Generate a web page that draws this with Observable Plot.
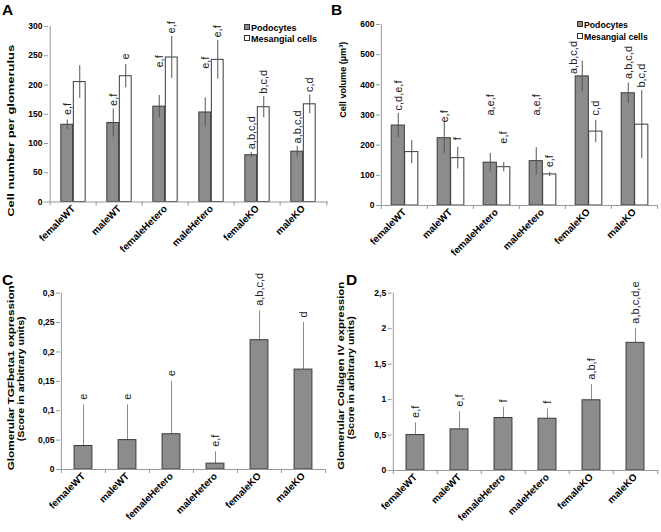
<!DOCTYPE html>
<html><head><meta charset="utf-8">
<script src="https://cdn.jsdelivr.net/npm/d3@7"></script>
<script src="https://cdn.jsdelivr.net/npm/@observablehq/plot@0.6"></script>
<style>
body{margin:0;background:#fff;}
#root{position:relative;width:661px;height:532px;overflow:hidden;font-family:"Liberation Sans",Arial,sans-serif;color:#000;}
.panel{position:absolute;}
.letter{position:absolute;font-weight:bold;font-size:15.5px;line-height:1;}
.ytitle{position:absolute;font-weight:bold;white-space:nowrap;line-height:1;}
.leg{position:absolute;font-weight:bold;white-space:nowrap;line-height:1;}
.leg span{display:inline-block;width:4px;height:4px;border:1px solid #333;margin-right:1px;vertical-align:1px;}
</style></head><body><div id="root"></div>
<script>
// ---------- data ----------
const groups = ["femaleWT","maleWT","femaleHetero","maleHetero","femaleKO","maleKO"];
const seriesNames = ["Podocytes","Mesangial cells"];

// Panel A: cell number per glomerulus
const aPodo = [132,135,163,153,80,86];
const aPodoErr = [8,24,19,25,5,9];
const aPodoLabels = ["e,f","e,f","e,f","e,f","a,b,c,d","a,b,c,d"];
const aMes = [205,215,247,243,162,167];
const aMesErr = [28,20,36,33,18,16];
const aMesLabels = ["","e","e,f","e,f","b,c,d","c,d"];
const aTicks = [0,50,100,150,200,250,300];

// Panel B: cell volume
const bPodo = [265,223,142,147,428,372];
const bPodoErr = [40,52,30,45,51,34];
const bPodoLabels = ["c,d,e,f","e,f","a,e,f","a,e,f","a,b,c,d","a,b,c,d"];
const bMes = [177,157,127,103,245,268];
const bMesErr = [38,36,15,7,37,113];
const bMesLabels = ["","f","e,f","e,f","c,d","b,c,d"];
const bTicks = [0,100,200,300,400,500,600];

// Panel C: TGFbeta1
const cVal = [0.04,0.05,0.06,0.01,0.22,0.17];
const cErr = [0.07,0.06,0.09,0.02,0.05,0.08];
const cLabels = ["e","e","e","e,f","a,b,c,d","d"];
const cTicks = [0,0.05,0.1,0.15,0.2,0.25,0.3];
const cTickLabels = ["0","0,05","0,1","0,15","0,2","0,25","0,3"];

// Panel D: Collagen IV
const dVal = [0.5,0.58,0.74,0.73,0.99,1.8];
const dErr = [0.17,0.25,0.15,0.14,0.22,0.2];
const dLabels = ["e,f","e,f","f","f","a,b,f","a,b,c,d,e"];
const dTicks = [0,0.5,1,1.5,2,2.5];
const dTickLabels = ["0","0,5","1","1,5","2","2,5"];

// ---------- styles ----------
const GRAY = "#8c8c8c", EDGE = "#3a3a3a", AXIS = "#999";
const FONT = "'Liberation Sans', Arial, sans-serif";
const root = document.getElementById("root");

function place(el, left, top){ el.classList.add("panel"); el.style.left = left+"px"; el.style.top = top+"px"; root.appendChild(el); }

function axesMarks(step, ymax, ticks, fmt){
  return [
    Plot.ruleY([0], {stroke: AXIS}),
    Plot.ruleX([groups[0]], {x: d => d, dx: -step/2, y1: 0, y2: ymax, stroke: AXIS}),
    Plot.ruleX(groups, {x: d => d, dx: -step/2, y1: 0, y2: 0, insetBottom: -4, stroke: AXIS}),
    Plot.ruleX([groups[groups.length-1]], {x: d => d, dx: step/2, y1: 0, y2: 0, insetBottom: -4, stroke: AXIS}),
    Plot.axisY({ticks, tickSize: 4, tickPadding: 2, stroke: AXIS, fill: "#000", fontWeight: "bold", fontSize: 8.5, tickFormat: fmt, label: null}),
    Plot.axisX({tickSize: 0, tickRotate: -45, tickPadding: 5, fill: "#000", fontWeight: "bold", fontSize: 9.8, label: null})
  ];
}

// per-label text placement (pixel lift above the error bar top, horizontal nudge)
function labelMarks(rows, yFn, labKey, baseDx, lifts, nudges){
  return rows.map((r,i) => r[labKey] ? Plot.text([r], {x: "g", y: yFn, text: labKey, rotate: -90, textAnchor: "start", lineAnchor: "middle",
    dx: baseDx + (nudges ? nudges[i] : 0), dy: -3 - (lifts ? lifts[i] : 0), fontSize: 11, fill: "#222"}) : null).filter(Boolean);
}

function grouped({W,H,ml,mr,mt,mb,ymax,ticks,podo,podoErr,podoLab,mes,mesErr,mesLab,barW,shift,podoLift,mesLift,podoNudge}){
  const step = (W-ml-mr)/groups.length;
  const rows = groups.map((g,i)=>({g, p: podo[i], pe: podoErr[i], pl: podoLab[i], m: mes[i], me: mesErr[i], mlab: mesLab[i]}));
  return Plot.plot({
    width: W, height: H, marginLeft: ml, marginRight: mr, marginTop: mt, marginBottom: mb,
    style: {fontFamily: FONT, background: "transparent", overflow: "visible"},
    x: {type: "band", domain: groups, padding: 0},
    y: {domain: [0, ymax]},
    marks: [
      Plot.barY(rows, {x: "g", y: "p", fill: GRAY, stroke: EDGE, strokeWidth: 1, insetLeft: step/2 - barW + shift, insetRight: step/2 - shift}),
      Plot.barY(rows, {x: "g", y: "m", fill: "#fff", stroke: EDGE, strokeWidth: 1, insetLeft: step/2 + shift, insetRight: step/2 - barW - shift}),
      Plot.ruleX(rows, {x: "g", y1: r => r.p - r.pe, y2: r => r.p + r.pe, dx: shift - barW/2, stroke: "#555"}),
      Plot.ruleX(rows, {x: "g", y1: r => r.m - r.me, y2: r => r.m + r.me, dx: shift + barW/2, stroke: "#555"}),
      ...labelMarks(rows, r => r.p + r.pe, "pl", shift - barW/2, podoLift, podoNudge),
      ...labelMarks(rows, r => r.m + r.me, "mlab", shift + barW/2, mesLift, null),
      ...axesMarks(step, ymax, ticks, d => String(d))
    ]
  });
}

function single({W,H,ml,mr,mt,mb,ymax,ticks,tickLabels,vals,errs,labs,barW}){
  const step = (W-ml-mr)/groups.length;
  const rows = groups.map((g,i)=>({g, v: vals[i], e: errs[i], l: labs[i]}));
  return Plot.plot({
    width: W, height: H, marginLeft: ml, marginRight: mr, marginTop: mt, marginBottom: mb,
    style: {fontFamily: FONT, background: "transparent", overflow: "visible"},
    x: {type: "band", domain: groups, padding: 0},
    y: {domain: [0, ymax]},
    marks: [
      Plot.ruleX(rows, {x: "g", y1: "v", y2: r => r.v + r.e, stroke: "#8a8a8a"}),
      Plot.barY(rows, {x: "g", y: "v", fill: GRAY, stroke: EDGE, strokeWidth: 1, insetLeft: (step - barW)/2, insetRight: (step - barW)/2}),
      ...labelMarks(rows, r => r.v + r.e, "l", 0, [2,2,2,2,2,2], null),
      ...axesMarks(step, ymax, ticks, d => tickLabels[ticks.indexOf(d)])
    ]
  });
}

place(grouped({W:330,H:270,ml:48,mr:2,mt:26,mb:68.5,ymax:300,ticks:aTicks,podo:aPodo,podoErr:aPodoErr,podoLab:aPodoLabels,mes:aMes,mesErr:aMesErr,mesLab:aMesLabels,barW:12.5,shift:0,
  podoLift:[2,0,25,26,0,0], mesLift:[0,2,0,0,0,0]}), 0, 0);
place(grouped({W:331,H:270,ml:50,mr:3,mt:24,mb:65,ymax:600,ticks:bTicks,podo:bPodo,podoErr:bPodoErr,podoLab:bPodoLabels,mes:bMes,mesErr:bMesErr,mesLab:bMesLabels,barW:13.5,shift:0.5,
  podoLift:[0,-3,35,29,-16,1], mesLift:[0,4,16,2,2,0], podoNudge:[0,0,0,0,-9,0]}), 330, 0);
place(single({W:330,H:262,ml:60,mr:5,mt:22.7,mb:63,ymax:0.3,ticks:cTicks,tickLabels:cTickLabels,vals:cVal,errs:cErr,labs:cLabels,barW:18}), 0, 270);
place(single({W:331,H:262,ml:61.7,mr:3,mt:22.7,mb:62,ymax:2.5,ticks:dTicks,tickLabels:dTickLabels,vals:dVal,errs:dErr,labs:dLabels,barW:18.3}), 330, 270);

// ---------- panel letters ----------
[["A",2,2],["B",331,2],["C",2,272],["D",346,272]].forEach(([t,x,y])=>{
  const d = document.createElement("div"); d.className = "letter"; d.textContent = t;
  d.style.left = x+"px"; d.style.top = y+"px"; root.appendChild(d);
});

// ---------- y titles ----------
function ytitle(text, cx, cy, len, size){
  const d = document.createElement("div"); d.className = "ytitle"; d.textContent = text;
  d.style.fontSize = size+"px"; root.appendChild(d);
  const w = d.getBoundingClientRect().width;
  const h = d.getBoundingClientRect().height;
  d.style.left = (cx - w/2)+"px"; d.style.top = (cy - h/2)+"px";
  d.style.transform = `rotate(-90deg) scaleX(${len/w})`;
}
ytitle("Cell number per glomerulus", 11, 131, 172, 9.6);
ytitle("Cell volume (µm³)", 343, 80, 76, 9.6);
ytitle("Glomerular TGFbeta1 expression", 11, 377.5, 185, 9.6);
ytitle("(Score in arbitrary units)", 20.5, 379, 125, 9.6);
ytitle("Glomerular Collagen IV expression", 341, 376, 188, 9.6);
ytitle("(Score in arbitrary units)", 350.5, 378, 123, 9.6);

// ---------- legends ----------
function legend(x, y, size, gap, fills){
  seriesNames.forEach((name,i)=>{
    const d = document.createElement("div"); d.className = "leg";
    d.style.left = x+"px"; d.style.top = (y + i*gap)+"px"; d.style.fontSize = size+"px";
    const s = document.createElement("span"); s.style.background = fills[i];
    d.appendChild(s); d.appendChild(document.createTextNode(name));
    root.appendChild(d);
  });
}
legend(244, 23.5, 9, 11.5, [GRAY, "#fff"]);
legend(577, 20.5, 8.7, 12, [GRAY, "#fff"]);
</script></body></html>
